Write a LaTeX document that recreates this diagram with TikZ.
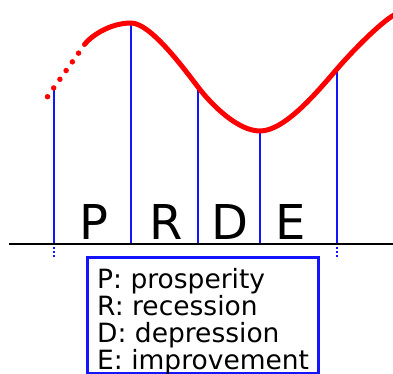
\documentclass[tikz,border=0pt]{standalone}
\usepackage{fontspec}
\setmainfont{DejaVu Sans}
\definecolor{curvered}{RGB}{255,0,0}
\definecolor{lineblue}{RGB}{20,20,255}
\tikzset{
  curveline/.style={draw=curvered, line width=5pt, line cap=round, line join=round},
  curvedots/.style={draw=curvered, line width=5.5pt, line cap=round, dash pattern=on 0pt off 10.7pt},
  guide/.style={draw=lineblue, line width=2pt},
  guidedots/.style={draw=lineblue, line width=1.6pt, dash pattern=on 1.6pt off 2.6pt},
  axisline/.style={draw=black, line width=1.8pt},
  phase/.style={font=\fontsize{48}{50}\selectfont, anchor=base, inner sep=0pt},
  legendbox/.style={draw=lineblue, line width=3pt, minimum width=231pt, minimum height=116pt, inner sep=0pt},
  legendtext/.style={font=\fontsize{26.5}{27}\selectfont, align=left, inner sep=0pt, anchor=base west}
}
\begin{document}
\begin{tikzpicture}[x=1pt,y=-1pt]
\useasboundingbox (0,0) rectangle (393,374);
% points on the curve
\coordinate (t1) at (54,88);
\coordinate (t2) at (131,23);
\coordinate (t3) at (198,87);
\coordinate (t4) at (260,131);
\coordinate (t5) at (337,69);
\coordinate (cs) at (84.5,44.5);
\coordinate (ce) at (394,15);
% foot points on axis
\coordinate (b1) at (54,244);
\coordinate (b2) at (131,244);
\coordinate (b3) at (198,244);
\coordinate (b4) at (260,244);
\coordinate (b5) at (337,244);
\coordinate (d1) at (54,259);
\coordinate (d5) at (337,259);
\coordinate (axl) at (9,244);
\coordinate (axr) at (393,244);
\coordinate (ds) at (47.5,96.7);
\coordinate (de) at (79,52.5);
% guide lines
\draw[guide] (b1) -- (t1);
\draw[guide] (b2) -- (t2);
\draw[guide] (b3) -- (t3);
\draw[guide] (b4) -- (t4);
\draw[guide] (b5) -- (t5);
\draw[guidedots] (b1) ++(0,3) -- (d1);
\draw[guidedots] (b5) ++(0,3) -- (d5);
% axis
\draw[axisline] (axl) -- (axr);
% curve
\draw[curvedots] (ds) -- (de);
\draw[curveline] (cs) .. controls (91,36) and (110,23) .. (t2)
  .. controls (150,23) and (182,66) .. (t3)
  .. controls (212,105.4) and (238,131) .. (t4)
  .. controls (285,131) and (318,91) .. (t5)
  .. controls (352,51.5) and (380,23) .. (ce);
% phase letters
\node[phase] (P) at (94,239) {P};
\node[phase] (R) at (166,239) {R};
\node[phase] (D) at (230,239) {D};
\node[phase] (E) at (291,239) {E};
% legend
\node[legendbox] (legend) at (202.5,315.5) {};
\node[legendtext] (legendtext) at (97,369) {P: prosperity\\R: recession\\D: depression\\E: improvement};
\end{tikzpicture}
\end{document}
